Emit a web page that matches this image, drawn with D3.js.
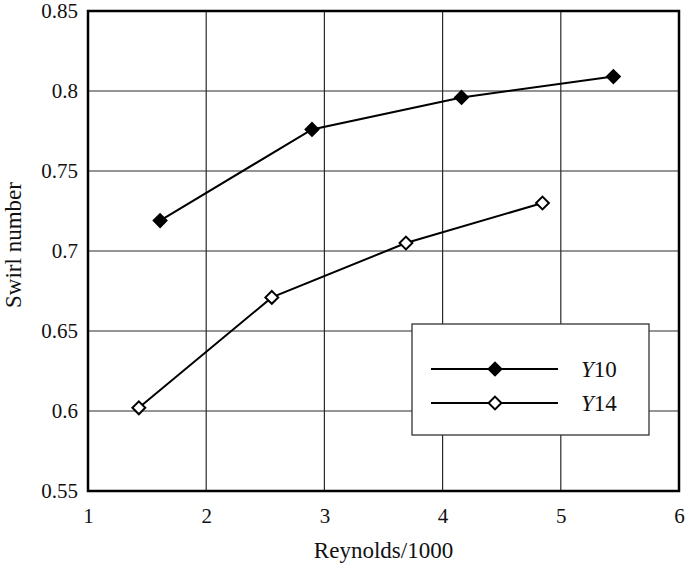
<!DOCTYPE html>
<html>
<head>
<meta charset="utf-8">
<script src="https://cdn.jsdelivr.net/npm/d3@7"></script>
<style>
  body { margin: 0; background: #fff; }
  svg text { font-family: "Liberation Serif", "Times New Roman", serif; fill: #111; }
  .ital { font-style: italic; }
</style>
</head>
<body>
<div id="chart-area"></div>
<script>
// data
const seriesNames = ['Y10', 'Y14'];
const y10Reynolds = [1.61, 2.895, 4.16, 5.445];
const y10Swirl = [0.719, 0.776, 0.796, 0.809];
const y14Reynolds = [1.43, 2.555, 3.69, 4.845];
const y14Swirl = [0.602, 0.671, 0.705, 0.730];
const xTicks = [1, 2, 3, 4, 5, 6];
const yTicks = [0.55, 0.6, 0.65, 0.7, 0.75, 0.8, 0.85];

const W = 685, H = 564;
const margin = { left: 88, top: 11, right: 6, bottom: 73 };
const width = W - margin.left - margin.right;
const height = H - margin.top - margin.bottom;

const svg = d3.select('#chart-area').append('svg')
    .attr('width', W)
    .attr('height', H);

const g = svg.append('g')
    .attr('transform', `translate(${margin.left}, ${margin.top})`);

const x = d3.scaleLinear().domain([1, 6]).range([0, width]);
const y = d3.scaleLinear().domain([0.55, 0.85]).range([height, 0]);

// grid lines
g.append('g')
    .selectAll('line')
    .data(xTicks.slice(1, -1))
    .join('line')
    .attr('x1', d => x(d)).attr('x2', d => x(d))
    .attr('y1', 0).attr('y2', height)
    .attr('stroke', '#2a2a2a').attr('stroke-width', 1.2);

g.append('g')
    .selectAll('line')
    .data(yTicks.slice(1, -1))
    .join('line')
    .attr('y1', d => y(d)).attr('y2', d => y(d))
    .attr('x1', 0).attr('x2', width)
    .attr('stroke', '#2a2a2a').attr('stroke-width', 1.2);

// axes (labels only, frame drawn separately)
const xAxis = g.append('g')
    .attr('transform', `translate(0, ${height})`)
    .call(d3.axisBottom(x).tickValues(xTicks).tickSize(0).tickPadding(17).tickFormat(d3.format('d')));
xAxis.select('.domain').remove();
xAxis.selectAll('text').attr('font-size', '21px').style('font-family', '"Liberation Serif", serif');

const yAxis = g.append('g')
    .call(d3.axisLeft(y).tickValues(yTicks).tickSize(0).tickPadding(10).tickFormat(d => String(+d.toFixed(2))));
yAxis.select('.domain').remove();
yAxis.selectAll('text').attr('font-size', '21px').attr('dy', '0.32em').style('font-family', '"Liberation Serif", serif');

// frame
g.append('rect')
    .attr('x', 0).attr('y', 0)
    .attr('width', width).attr('height', height)
    .attr('fill', 'none')
    .attr('stroke', '#000')
    .attr('stroke-width', 2.5);

// axis titles
svg.append('text')
    .attr('x', margin.left + width / 2)
    .attr('y', 558)
    .attr('text-anchor', 'middle')
    .attr('font-size', '23px')
    .text('Reynolds/1000');

svg.append('text')
    .attr('transform', `translate(21, 245) rotate(-90)`)
    .attr('text-anchor', 'middle')
    .attr('font-size', '23px')
    .text('Swirl number');

// series
const series = [
    { name: seriesNames[0], xs: y10Reynolds, ys: y10Swirl, fill: '#000' },
    { name: seriesNames[1], xs: y14Reynolds, ys: y14Swirl, fill: '#fff' }
];

const line = d3.line().x(d => x(d[0])).y(d => y(d[1]));
const diamond = d3.symbol().type(d3.symbolDiamond2).size(105);

series.forEach(s => {
    const pts = s.xs.map((v, i) => [v, s.ys[i]]);
    g.append('path')
        .datum(pts)
        .attr('d', line)
        .attr('fill', 'none')
        .attr('stroke', '#000')
        .attr('stroke-width', 2);
    g.selectAll(null)
        .data(pts)
        .join('path')
        .attr('d', diamond)
        .attr('transform', d => `translate(${x(d[0])}, ${y(d[1])})`)
        .attr('fill', s.fill)
        .attr('stroke', '#000')
        .attr('stroke-width', 2);
});

// legend
const legend = svg.append('g').attr('transform', 'translate(412, 324)');
legend.append('rect')
    .attr('width', 237).attr('height', 111)
    .attr('fill', '#fff')
    .attr('stroke', '#333')
    .attr('stroke-width', 1.3);

series.forEach((s, i) => {
    const ly = 45 + i * 34;
    legend.append('line')
        .attr('x1', 19).attr('x2', 146)
        .attr('y1', ly).attr('y2', ly)
        .attr('stroke', '#000').attr('stroke-width', 2);
    legend.append('path')
        .attr('d', diamond)
        .attr('transform', `translate(83, ${ly})`)
        .attr('fill', s.fill)
        .attr('stroke', '#000')
        .attr('stroke-width', 2);
    const t = legend.append('text')
        .attr('x', 169).attr('y', ly + 8)
        .attr('font-size', '23px');
    t.append('tspan').attr('class', 'ital').style('font-style', 'italic').text(s.name[0]);
    t.append('tspan').text(s.name.slice(1));
});
</script>
</body>
</html>
